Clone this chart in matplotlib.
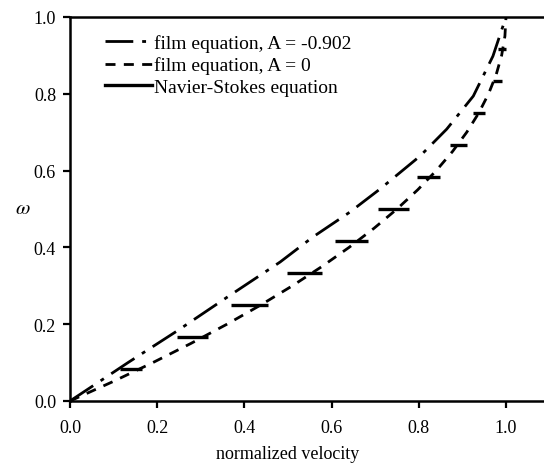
import matplotlib
matplotlib.use("Agg")
import matplotlib.pyplot as plt

# film equation, A = -0.902 (normalized velocity, omega)
u_film_a = [0.0, 0.076, 0.133, 0.245, 0.36, 0.482, 0.557, 0.642, 0.711, 0.803, 0.864, 0.925, 0.970, 1.0]
w_film_a = [0.0, 0.057, 0.100, 0.182, 0.27, 0.362, 0.427, 0.492, 0.552, 0.638, 0.708, 0.794, 0.898, 1.0]

# film equation, A = 0
u_film_0 = [0.0, 0.0975, 0.19, 0.2775, 0.36, 0.4375, 0.51, 0.5775, 0.64, 0.6975, 0.75,
            0.7975, 0.84, 0.8775, 0.91, 0.9375, 0.96, 0.9775, 0.99, 0.9975, 1.0]
w_film_0 = [0.0, 0.05, 0.1, 0.15, 0.2, 0.25, 0.3, 0.35, 0.4, 0.45, 0.5,
            0.55, 0.6, 0.65, 0.7, 0.75, 0.8, 0.85, 0.9, 0.95, 1.0]

# Navier-Stokes: short horizontal segments
w_ns = [0.083, 0.167, 0.25, 0.333, 0.417, 0.5, 0.583, 0.667, 0.75, 0.833, 0.917]
u_ns_lo = [0.115, 0.245, 0.37, 0.497, 0.608, 0.706, 0.796, 0.872, 0.925, 0.970, 0.982]
u_ns_hi = [0.165, 0.317, 0.454, 0.578, 0.683, 0.778, 0.849, 0.911, 0.952, 0.991, 1.0]

plt.rcParams['font.family'] = ['Liberation Serif', 'DejaVu Serif']
plt.rcParams['mathtext.fontset'] = 'stix'

fig = plt.figure(figsize=(5.44, 4.64), dpi=100)
ax = fig.add_axes([70/544, 62/464, 474/544, 384/464])

ax.plot(u_film_a, w_film_a, color='black', lw=2, dashes=(10, 3.2, 1.4, 3.2),
        label='film equation, A = -0.902')
ax.plot(u_film_0, w_film_0, color='black', lw=2, dashes=(3.6, 3.0),
        label='film equation, A = 0')
ax.hlines(w_ns, u_ns_lo, u_ns_hi, color='black', lw=2.4)
ax.plot([], [], color='black', lw=2.4, label='Navier-Stokes equation')

ax.set_xlim(0, 474/436)
ax.set_ylim(0, 1.0)
ax.set_xticks([0.0, 0.2, 0.4, 0.6, 0.8, 1.0])
ax.set_yticks([0.0, 0.2, 0.4, 0.6, 0.8, 1.0])
ax.set_xticklabels(['0.0', '0.2', '0.4', '0.6', '0.8', '1.0'])
ax.set_yticklabels(['0.0', '0.2', '0.4', '0.6', '0.8', '1.0'])
ax.tick_params(direction='out', length=5, width=1.6, labelsize=13)
ax.tick_params(axis='x', pad=8)
ax.tick_params(axis='y', pad=5)

ax.spines['right'].set_visible(False)
for s in ['left', 'bottom', 'top']:
    ax.spines[s].set_linewidth(1.8)

ax.set_xlabel('normalized velocity', fontsize=13)
ax.xaxis.set_label_coords(0.5 * 436/474, -0.115)
ax.set_ylabel(r'$\omega$', fontsize=15, rotation=0, va='center')
ax.yaxis.set_label_coords(-0.10, 0.5)

ax.legend(loc='upper left', frameon=False, fontsize=14, handlelength=2.4,
          handletextpad=0.1, labelspacing=0.22, borderaxespad=0,
          bbox_to_anchor=(0.058, 0.975))

fig.savefig('out.png', dpi=100)
